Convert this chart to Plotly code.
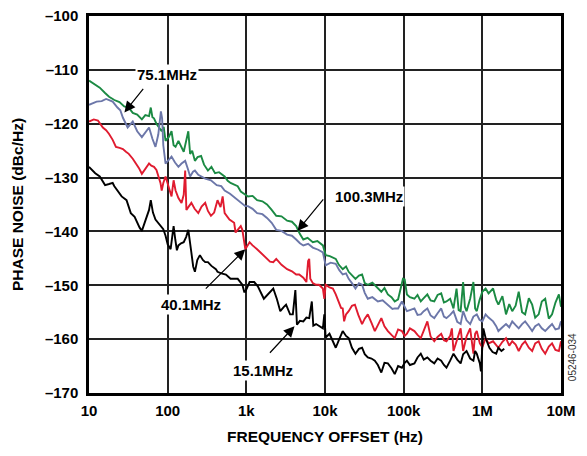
import numpy as np
import plotly.graph_objects as go

# ---------------- data ----------------
green_f = [10, 12, 13.7, 16, 18, 21, 24.4, 28, 32, 36, 41, 47, 52, 58, 61, 64, 67, 72, 77, 84, 89, 94,
           103, 112, 119, 126, 137, 150, 160, 170, 183, 193, 205, 222, 240, 266, 290, 325, 360, 400, 450,
           530, 580, 630, 700, 777, 850, 940, 1050, 1200, 1370, 1600, 1830, 2100, 2400, 2800, 3300, 3800,
           4300, 4800, 5300, 6000, 7000, 8000, 9400, 10200, 11500, 13700, 15000, 16800, 18500, 20000,
           22000, 24400, 27000, 29600, 32000, 35000, 40000, 47000, 52000, 57000, 63000, 70000, 77000,
           85000, 95000, 98000, 103000, 110000, 120000, 137000, 150000, 165000, 180000, 200000, 220000,
           245000, 270000, 300000, 325000, 350000, 390000, 430000, 470000, 500000, 530000, 570000,
           600000, 630000, 700000, 770000, 810000, 850000, 920000, 1000000, 1100000, 1200000, 1370000,
           1500000, 1600000, 1800000, 2000000, 2200000, 2400000, 2650000, 2900000, 3200000, 3500000,
           3900000, 4300000, 4700000, 5200000, 5700000, 6300000, 7000000, 7700000, 8500000, 9400000,
           10000000]
green_db = [-112, -112.8, -113.3, -114.3, -115, -115.6, -116, -116.8, -117, -118, -118.3, -119.2, -118.4,
            -118.6, -117, -118.8, -119, -120, -120.7, -121.4, -120.6, -123.2, -122.5, -121.4, -124, -124.3,
            -123.2, -124.3, -125.2, -123.5, -121.4, -125.6, -125, -126.9, -126.2, -126, -127.6, -128.7,
            -128, -129.2, -129, -129.8, -130.6, -131, -131.3, -131.6, -132.6, -133, -133.5, -133.4, -134.2,
            -134.4, -135, -136, -137.1, -137.2, -138, -138.2, -139, -140.5, -141.5, -141.2, -142, -141.8,
            -142.6, -144.4, -144.6, -145.1, -146.2, -147, -146.5, -147.5, -148.2, -148.8, -148.2, -148,
            -149.6, -149.9, -149.5, -150.6, -151.2, -150.5, -151.7, -152.2, -153, -152.6, -150, -148.8,
            -148.9, -151.7, -152.2, -152.5, -151.8, -153, -152.4, -151.7, -152.8, -153, -151.8, -151.5,
            -153.2, -153, -152.5, -154.3, -150.6, -154.6, -154.8, -149.4, -154, -154.8, -152.5, -149.4,
            -154.3, -154.8, -152.8, -151.2, -150.6, -151.5, -150.6, -152.7, -153.6, -152, -155.4, -153.5,
            -154.8, -153.8, -151.2, -155, -155.4, -152.4, -153.6, -156, -155.4, -153, -152.5, -156.2,
            -155.4, -153.2, -151.7, -154]

blue_f = [10, 12.5, 14.5, 16.5, 18, 20, 23, 25, 27, 31, 36, 41, 47, 52, 58, 64, 70, 76, 82, 85, 88, 94,
          103, 112, 124, 137, 150, 167, 180, 193, 210, 222, 245, 266, 300, 355, 420, 480, 530, 620, 700,
          777, 870, 970, 1050, 1200, 1370, 1600, 1830, 2100, 2400, 2800, 3300, 3800, 4300, 4800, 5300,
          6100, 7000, 8200, 9400, 10200, 11800, 13700, 15200, 16800, 18500, 20000, 22000, 24400, 27000,
          29600, 32000, 35000, 40000, 47000, 54000, 63000, 72000, 77000, 85000, 95000, 100000, 110000,
          120000, 137000, 150000, 165000, 180000, 200000, 220000, 245000, 270000, 300000, 325000,
          350000, 390000, 430000, 480000, 530000, 570000, 630000, 700000, 770000, 850000, 920000,
          1000000, 1100000, 1200000, 1370000, 1500000, 1600000, 1800000, 2000000, 2200000, 2400000,
          2650000, 2900000, 3200000, 3500000, 3900000, 4300000, 4700000, 5200000, 5700000, 6300000,
          7000000, 7700000, 8500000, 9400000, 10000000]
blue_db = [-116.5, -115.9, -115.8, -115.4, -115.6, -115.9, -117, -117.5, -118.9, -120.7, -119.6, -121.4,
           -122.5, -121.6, -120.7, -122.8, -124.3, -122, -117.7, -119, -124, -127.4, -126.8, -126.1,
           -127.2, -128, -127.4, -126.9, -128.3, -129.8, -128.9, -128.7, -129.5, -129.8, -130.2, -130.5,
           -131.4, -131.6, -132.4, -133, -133.6, -134.2, -134.6, -135.3, -135.3, -135.8, -136.6, -136.8,
           -137.5, -138.4, -139.7, -139.9, -140.6, -140.8, -141.5, -142.2, -142.6, -142.3, -143, -143.4,
           -143.9, -146.3, -145.8, -146, -147.2, -148, -147.8, -148.8, -149.6, -150.6, -149.6, -149.9,
           -151.4, -152.5, -152.2, -153, -152.8, -153.6, -154.4, -154.3, -154.3, -153, -153.6, -154.8,
           -154.6, -154.3, -155.5, -155.4, -154.8, -154.3, -155.6, -156.1, -155.2, -154.3, -155.8, -156.1,
           -155.5, -154.8, -156.8, -157.2, -154.8, -156.5, -157.2, -155.8, -155.4, -156.4, -156.7, -155.4,
           -156, -156.7, -157.6, -158.5, -157.8, -157.2, -157.8, -156.7, -157.4, -158, -157.2, -156.7,
           -157.6, -158.5, -157.6, -157.2, -158, -158.5, -157.8, -157.2, -158.2, -158, -156.7]

red_f = [10, 11.5, 13, 15, 16.5, 18, 20, 22, 24.5, 27, 29.5, 32, 36, 40, 43, 47, 52, 58, 62, 67, 72, 77,
         81, 84, 88, 94, 100, 106, 112, 119, 126, 137, 150, 160, 167, 173, 185, 200, 220, 245, 270, 300,
         325, 355, 390, 410, 430, 470, 500, 530, 610, 700, 730, 777, 850, 890, 940, 970, 1100, 1200, 1370,
         1600, 1830, 2000, 2200, 2400, 2800, 3300, 3800, 4300, 4700, 5300, 5800, 6100, 6300, 6500, 7000,
         7700, 8400, 9400, 9800, 10200, 11400, 12600, 13700, 15000, 16000, 16800, 17500, 18500, 20000,
         22000, 24000, 26500, 29600, 32000, 35000, 39000, 43000, 47000, 52000, 57000, 63000, 70000,
         77000, 85000, 95000, 103000, 110000, 120000, 137000, 150000, 165000, 180000, 200000, 220000,
         245000, 270000, 300000, 325000, 350000, 390000, 410000, 430000, 480000, 530000, 570000,
         630000, 700000, 770000, 810000, 850000, 930000, 1000000, 1100000, 1200000, 1370000, 1500000,
         1600000, 1800000, 2000000, 2200000, 2400000, 2650000, 2900000, 3200000, 3500000, 3900000,
         4300000, 4700000, 5200000, 5700000, 6300000, 7000000, 7700000, 8500000, 9400000, 10000000]
red_db = [-119.6, -119.2, -119.4, -120.7, -121.2, -121.9, -123, -124.3, -124.5, -124.7, -125.2, -125.6,
          -126.5, -127.4, -128.2, -129.3, -128.3, -127.4, -127.8, -128, -128.6, -129.8, -131, -132.4, -131,
          -129.8, -131.2, -132.6, -133.5, -130.5, -132.4, -133.8, -134.7, -133.2, -128.7, -136, -135.4,
          -134.7, -135.8, -136.6, -135.4, -134.7, -136.2, -137.1, -136.5, -135.3, -134.2, -135.5, -133.5,
          -136.6, -137.8, -138.4, -140.2, -139.7, -139, -139.7, -142.6, -143.3, -142, -142.6, -143.3,
          -144.2, -145.1, -145.6, -145.7, -145.1, -146.2, -147, -147.4, -148, -148, -148.6, -149.4,
          -145.5, -145.1, -148.8, -149.6, -149.9, -149.9, -150.6, -152.5, -149.9, -150.4, -150.6, -151.7,
          -153, -154.2, -154.3, -156.7, -155.4, -154.8, -153.8, -153.6, -155.5, -157.2, -156.2, -155.4,
          -157, -158.5, -157.4, -156.1, -157.6, -158.5, -159.2, -159.8, -158.2, -158.5, -159.4, -159,
          -158, -158.5, -159.2, -159.8, -158.4, -156.7, -159.5, -160.4, -159.6, -159, -160.2, -160.4,
          -159.4, -158, -162.2, -160, -158, -162.2, -159.5, -158, -162.7, -159, -158.5, -160.8, -161.5,
          -159.8, -160.8, -160.4, -161, -161.6, -160.5, -159.8, -161.2, -160.4, -161, -162.2, -161,
          -160.4, -161.6, -162.2, -160.8, -160.4, -161.8, -162.7, -161.4, -160.8, -162, -162.2, -160.4]

black_f = [10, 12, 13.7, 16, 18, 20, 21, 24, 26, 30, 34, 38, 41, 44, 47, 51, 55, 58, 61, 65, 70, 76, 82,
           88, 94, 100, 109, 114, 119, 125, 131, 137, 148, 160, 172, 183, 192, 200, 211, 222, 238, 257,
           280, 300, 325, 360, 410, 430, 480, 550, 630, 730, 777, 890, 940, 970, 1100, 1260, 1400, 1670,
           2000, 2200, 2450, 2700, 3000, 3200, 3600, 3900, 4200, 4400, 4800, 5300, 5800, 6300, 6800,
           7100, 7700, 8600, 9400, 9800, 10200, 11400, 12500, 13700, 15000, 16800, 18500, 20000, 22000,
           24400, 27000, 29600, 32000, 35000, 39000, 43000, 47000, 52000, 57000, 63000, 70000, 77000,
           85000, 95000, 103000, 110000, 120000, 137000, 150000, 165000, 180000, 200000, 220000,
           245000, 270000, 300000, 325000, 350000, 390000, 430000, 480000, 530000, 570000, 630000,
           700000, 770000, 810000, 850000, 930000, 960000, 1030000, 1100000, 1230000, 1350000,
           1500000, 1600000, 1750000, 1900000]
black_db = [-128, -129.2, -129.8, -131.4, -131.2, -131, -131.6, -132.9, -133.5, -134.2, -136.6, -137.3,
            -138.4, -139.3, -139.9, -138.5, -137.1, -136, -134.2, -136.5, -137.8, -138.5, -139, -139.6,
            -140.8, -142.4, -143.3, -141, -139, -141.5, -143.5, -142.6, -142.2, -142, -141, -139.7, -142.5,
            -143.9, -146.5, -147.5, -145.3, -144.4, -145.3, -145.7, -145.7, -146.4, -147, -147.5, -147.8,
            -148, -148.8, -148.8, -148.8, -149.9, -151.2, -151.2, -149.4, -149.4, -150.2, -152.5, -151.2,
            -150.6, -152.6, -154.8, -154, -153.6, -155.4, -155.4, -150.9, -157.3, -156.6, -156.7, -156,
            -156.1, -153, -157.5, -157.2, -157.6, -158, -155.4, -159.7, -159, -160.4, -161.6, -160.2,
            -158.5, -159.4, -159.8, -161.6, -162.7, -161.8, -161.6, -162.8, -163.4, -163.6, -164, -164.8,
            -166.2, -164.4, -164.5, -165.4, -166.5, -165, -165.3, -164.4, -164, -164.8, -164.5, -163.4,
            -162.7, -163.8, -163.4, -164, -164.5, -163.6, -164, -164.8, -165.3, -164, -162.7, -163.8,
            -164.5, -162.8, -162.2, -163.6, -164, -162.2, -162.7, -164.5, -166, -158, -159.8, -161.6,
            -162.4, -162.7, -161.6, -162.2, -161.8]

x_tick_vals = [10, 100, 1000, 10000, 100000, 1000000, 10000000]
x_tick_text = ["10", "100", "1k", "10k", "100k", "1M", "10M"]
y_tick_vals = [-100, -110, -120, -130, -140, -150, -160, -170]
y_tick_text = ["–100", "–110", "–120", "–130", "–140", "–150", "–160", "–170"]

# label, arrow tip (freq, dB), arrow tail offset px, text centre (freq, dB)
labels = [
    ("75.1MHz", 28.2, -117.9, 20, -25, 97, -110.8),
    ("100.3MHz", 4470, -139.9, 27, -33, 36500, -133.5),
    ("40.1MHz", 970, -143.3, -41, 41, 200, -153.6),
    ("15.1MHz", 4100, -157.6, -26, 28, 1630, -165.8),
]

# ---------------- figure ----------------
FONT = "Liberation Sans, Arial, sans-serif"
fig = go.Figure()
series = [
    (green_f, green_db, "#1b8a43"),
    (blue_f, blue_db, "#6c77a9"),
    (red_f, red_db, "#e01b2f"),
    (black_f, black_db, "#000000"),
]
for f, db, col in series:
    fig.add_trace(go.Scatter(x=f, y=db, mode="lines", line=dict(color=col, width=1.9),
                             showlegend=False, hoverinfo="skip"))

for text, tf, tdb, ax, ay, lf, ldb in labels:
    fig.add_annotation(x=np.log10(tf), y=tdb, xref="x", yref="y", text="", showarrow=True,
                       ax=ax, ay=ay, arrowhead=2, arrowsize=1.8, arrowwidth=1.2, arrowcolor="black")
    fig.add_annotation(x=np.log10(lf), y=ldb, xref="x", yref="y", text="<b>%s</b>" % text,
                       showarrow=False, bgcolor="white", borderpad=1,
                       font=dict(family=FONT, size=15, color="black"))

fig.add_annotation(x=1.0, y=0.095, xref="paper", yref="paper", text="05246-034", xshift=11,
                   xanchor="center", yanchor="middle",
                   showarrow=False, textangle=-90, font=dict(family=FONT, size=10, color="#333"))

axis_common = dict(showline=True, linecolor="black", linewidth=2.5, mirror=True, automargin=False,
                   showgrid=True, gridcolor="#222", gridwidth=1.5, ticks="", zeroline=False,
                   ticklabeloverflow="allow",
                   tickfont=dict(family=FONT, size=15, color="black", weight="bold"))
fig.update_xaxes(type="log", range=[1, 7], tickvals=x_tick_vals, ticktext=x_tick_text,
                 title=dict(text="<b>FREQUENCY OFFSET (Hz)</b>", standoff=14,
                            font=dict(family=FONT, size=15.5, color="black")),
                 ticklabelstandoff=2, **axis_common)
fig.update_yaxes(range=[-170, -100], tickvals=y_tick_vals, ticktext=y_tick_text,
                 title=dict(text="<b>PHASE NOISE (dBc/Hz)</b>", standoff=18,
                            font=dict(family=FONT, size=15.5, color="black")),
                 ticklabelstandoff=5, **axis_common)
# the page adds an 8 px body margin, so the figure is sized to fit inside the 587x456 window
fig.update_layout(width=571, height=440, margin=dict(l=81, r=18, t=8, b=55),
                  plot_bgcolor="white", paper_bgcolor="white")
fig.write_html("out.html")
